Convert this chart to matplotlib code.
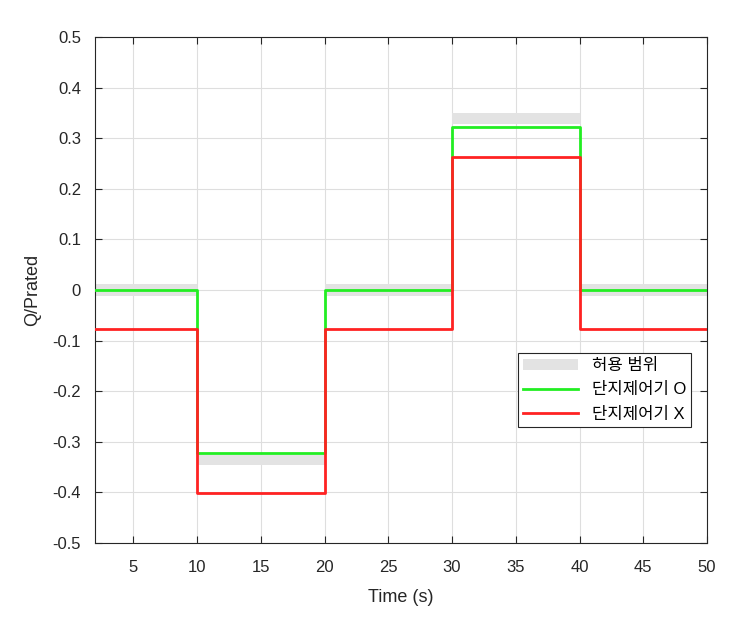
import numpy as np
import matplotlib.pyplot as plt

plt.rcParams['font.family'] = ['Liberation Sans', 'Noto Sans CJK KR', 'DejaVu Sans']

# step edges (s) and levels for each segment
t_edges = [2, 10, 20, 30, 40, 50]
q_with = [0.0, -0.322, 0.0, 0.322, 0.0]       # 단지제어기 O
q_without = [-0.077, -0.402, -0.077, 0.263, -0.077]  # 단지제어기 X
band_lo = [-0.012, -0.346, -0.012, 0.329, -0.012]
band_hi = [0.012, -0.326, 0.012, 0.350, 0.012]

labels = ['허용 범위', '단지제어기 O', '단지제어기 X']
xticks = [5, 10, 15, 20, 25, 30, 35, 40, 45, 50]
yticks = np.round(np.arange(-0.5, 0.51, 0.1), 1)

fig = plt.figure(figsize=(7.44, 6.22), dpi=100)
ax = fig.add_axes([0.1277, 0.127, 0.8226, 0.8135])

t = np.array(t_edges)
lo = np.append(band_lo, band_lo[-1])
hi = np.append(band_hi, band_hi[-1])
ax.fill_between(t, lo, hi, step='post', color='#e3e3e3', lw=0, label=labels[0], zorder=2)

ax.plot(t, np.append(q_with, q_with[-1]), drawstyle='steps-post', color='#22ee22', lw=2, label=labels[1], zorder=3)
ax.plot(t, np.append(q_without, q_without[-1]), drawstyle='steps-post', color='#ff2222', lw=2, label=labels[2], zorder=4)

ax.set_xlim(2, 50)
ax.set_ylim(-0.5, 0.5)
ax.set_xticks(xticks)
ax.set_yticks(yticks)
ax.set_yticklabels(['0' if v == 0 else f'{v:g}' for v in yticks])
ax.grid(True, color='#dedede', lw=0.8)
ax.set_axisbelow(True)
ax.tick_params(direction='in', length=5, top=True, right=True, labelsize=12, colors='#262626', width=0.8)
ax.tick_params(axis='x', pad=12)
ax.tick_params(axis='y', pad=10)
for s in ax.spines.values():
    s.set_color('#262626')
    s.set_linewidth(0.8)

ax.set_xlabel('Time (s)', fontsize=13, color='#262626', labelpad=10)
ax.set_ylabel('Q/Prated', fontsize=13, color='#262626', labelpad=8)

leg = ax.legend(loc='upper right', bbox_to_anchor=(0.974, 0.375), borderaxespad=0, fontsize=12,
                fancybox=False, edgecolor='#262626', framealpha=1, handlelength=3.3,
                borderpad=0.3, labelspacing=0.55)
leg.get_frame().set_linewidth(0.8)

fig.savefig('out.png', dpi=100)
